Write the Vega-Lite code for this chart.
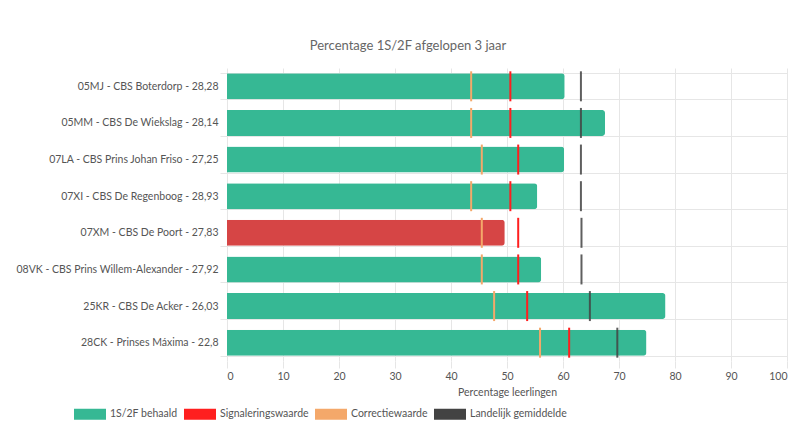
{
  "$schema": "https://vega.github.io/schema/vega-lite/v6.json",
  "autosize": "none",
  "width": 560,
  "height": 293,
  "padding": {"left": 227, "top": 68, "right": 8, "bottom": 62},
  "background": "white",
  "config": {
    "font": "Lato",
    "view": {"stroke": null},
    "axis": {"labelFont": "Lato", "titleFont": "Lato", "labelColor": "#555", "titleColor": "#555", "gridColor": "#e6e6e6", "tickColor": "#e6e6e6", "domain": false},
    "legend": {"labelFont": "Lato", "labelColor": "#555", "symbolOpacity": 1}
  },
  "title": {
    "text": "Percentage 1S/2F afgelopen 3 jaar",
    "font": "Lato",
    "fontSize": 13,
    "fontWeight": "normal",
    "color": "#666",
    "anchor": "middle",
    "frame": "group",
    "dx": -99,
    "offset": 10
  },
  "data": {
    "values": [
      {"school": "05MJ - CBS Boterdorp - 28,28", "behaald": 60.3, "signalering": 50.6, "correctie": 43.6, "landelijk": 63.2, "status": "1S/2F behaald"},
      {"school": "05MM - CBS De Wiekslag - 28,14", "behaald": 67.5, "signalering": 50.6, "correctie": 43.6, "landelijk": 63.2, "status": "1S/2F behaald"},
      {"school": "07LA - CBS Prins Johan Friso - 27,25", "behaald": 60.2, "signalering": 52.0, "correctie": 45.5, "landelijk": 63.2, "status": "1S/2F behaald"},
      {"school": "07XI - CBS De Regenboog - 28,93", "behaald": 55.4, "signalering": 50.6, "correctie": 43.6, "landelijk": 63.2, "status": "1S/2F behaald"},
      {"school": "07XM - CBS De Poort - 27,83", "behaald": 49.6, "signalering": 52.0, "correctie": 45.5, "landelijk": 63.3, "status": "Onder signaleringswaarde"},
      {"school": "08VK - CBS Prins Willem-Alexander - 27,92", "behaald": 56.1, "signalering": 52.0, "correctie": 45.5, "landelijk": 63.3, "status": "1S/2F behaald"},
      {"school": "25KR - CBS De Acker - 26,03", "behaald": 78.3, "signalering": 53.6, "correctie": 47.7, "landelijk": 64.8, "status": "1S/2F behaald"},
      {"school": "28CK - Prinses Máxima - 22,8", "behaald": 74.9, "signalering": 61.1, "correctie": 55.9, "landelijk": 69.7, "status": "1S/2F behaald"}
    ]
  },
  "encoding": {
    "y": {
      "field": "school",
      "type": "nominal",
      "sort": null,
      "scale": {"paddingInner": 0.29, "paddingOuter": 0.145},
      "axis": {"title": null, "labelFontSize": 10.5, "labelLimit": 300, "tickBand": "extent", "grid": true, "ticks": true, "tickSize": 7, "labelPadding": 2}
    }
  },
  "layer": [
    {
      "mark": {"type": "bar", "cornerRadiusEnd": 3},
      "encoding": {
        "x": {
          "field": "behaald",
          "type": "quantitative",
          "scale": {"domain": [0, 100], "nice": false},
          "axis": {"title": "Percentage leerlingen", "titleFontSize": 10.5, "titleFontWeight": "normal", "titlePadding": 6, "labelFontSize": 10.5, "values": [0, 10, 20, 30, 40, 50, 60, 70, 80, 90, 100], "tickSize": 7, "labelPadding": 3, "grid": true}
        },
        "color": {
          "field": "status",
          "type": "nominal",
          "scale": {
            "domain": ["1S/2F behaald", "Signaleringswaarde", "Correctiewaarde", "Landelijk gemiddelde", "Onder signaleringswaarde"],
            "range": ["#36b894", "#ff1f1f", "#f4a86a", "#434343", "#d64545"]
          },
          "legend": {
            "title": null,
            "orient": "none",
            "direction": "horizontal",
            "legendX": -147,
            "legendY": 336,
            "values": ["1S/2F behaald", "Signaleringswaarde", "Correctiewaarde", "Landelijk gemiddelde"],
            "symbolType": "M-1.6,-0.55H1.6V0.55H-1.6Z",
            "symbolSize": 400,
            "symbolOpacity": 1,
            "symbolStrokeWidth": 0,
            "labelFontSize": 10.5,
            "labelOffset": 10,
            "columnPadding": 6,
            "encode": {"symbols": {"update": {"opacity": {"value": 1}, "fillOpacity": {"value": 1}}}}
          }
        }
      }
    },
    {
      "mark": {"type": "tick", "thickness": 2, "size": 30, "opacity": 1},
      "encoding": {
        "x": {"field": "correctie", "type": "quantitative"},
        "color": {"datum": "Correctiewaarde"}
      }
    },
    {
      "mark": {"type": "tick", "thickness": 2, "size": 30, "opacity": 1},
      "encoding": {
        "x": {"field": "signalering", "type": "quantitative"},
        "color": {"datum": "Signaleringswaarde"}
      }
    },
    {
      "mark": {"type": "tick", "thickness": 2, "size": 30, "opacity": 0.85},
      "encoding": {
        "x": {"field": "landelijk", "type": "quantitative"},
        "color": {"datum": "Landelijk gemiddelde"}
      }
    }
  ]
}
